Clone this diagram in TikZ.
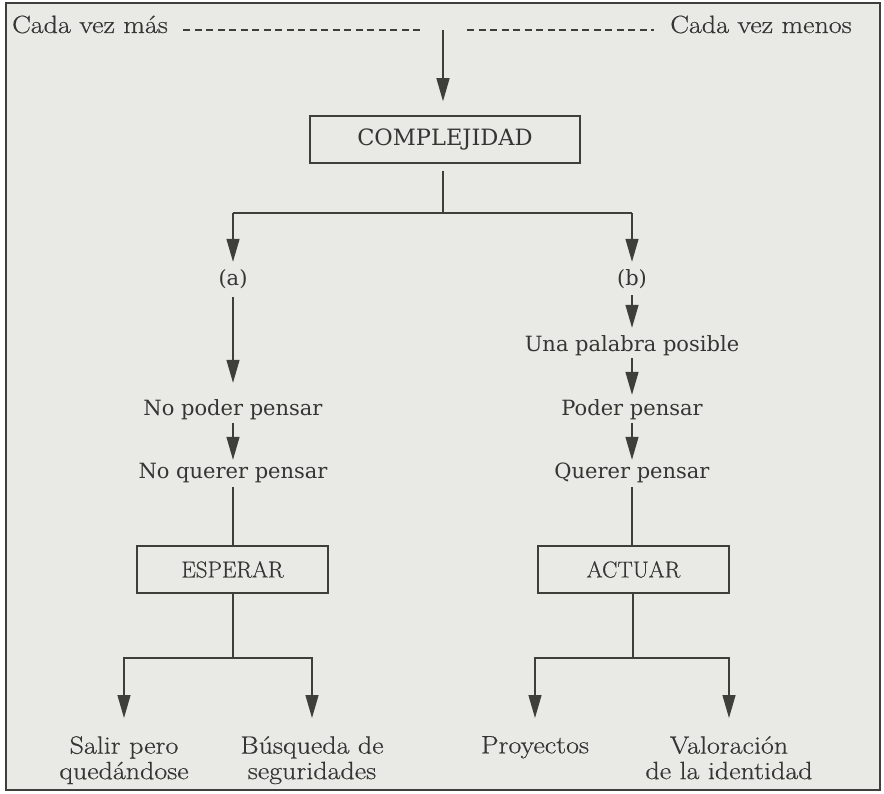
\documentclass[tikz,border=0pt]{standalone}
\usepackage{fontspec}
\newfontfamily\djserif{DejaVu Serif}
\newfontfamily\lmwide[FakeStretch=1.12, FakeBold=0.5]{Latin Modern Roman}
\newfontfamily\lmbox[FakeBold=0.5]{Latin Modern Roman}
\usetikzlibrary{arrows.meta}
\definecolor{bgc}{HTML}{E9E9E5}
\definecolor{ink}{HTML}{3E3F3B}
\definecolor{txt}{HTML}{353533}
\tikzset{
  lbl/.style={inner sep=0pt, text=txt, font=\djserif\fontsize{21}{24}\selectfont, text height=15pt, text depth=5pt},
  cnd/.style={inner sep=0pt, text=txt, font=\lmwide\fontsize{25}{25}\selectfont},
  bot/.style={inner sep=0pt, text=txt, align=center, anchor=north, font=\lmwide\fontsize{25}{25.5}\selectfont},
  boxc/.style={draw=ink, line width=1.5pt, fill=bgc, minimum height=47pt, text=txt, inner sep=0pt},
  conn/.style={draw=ink, line width=1.3pt},
  arr/.style={conn, -{Triangle[length=23pt, width=13pt]}},
}
\begin{document}
\begin{tikzpicture}[x=1pt, y=-1pt]
\useasboundingbox (0,0) rectangle (884,794);
\fill[white] (0,0) rectangle (884,794);
\draw[fill=bgc, draw=ink, line width=2pt] (6,3) rectangle (880,790);

% top texts
\node[cnd, anchor=base] (mas) at (90,33) {Cada vez más};
\node[cnd, anchor=base] (menos) at (761,33) {Cada vez menos};
\coordinate (d1a) at (183,30);
\coordinate (d1b) at (423,30);
\coordinate (d2a) at (467,30);
\coordinate (d2b) at (654,30);
\draw[conn, line width=1.2pt, dash pattern=on 7pt off 4.5pt] (d1a) -- (d1b);
\draw[conn, line width=1.2pt, dash pattern=on 7pt off 4.5pt] (d2a) -- (d2b);
\coordinate (top) at (443,30);

% complejidad
\node[boxc, minimum width=270pt, font=\djserif\fontsize{22.5}{24}\selectfont] (comp) at (445,139.5) {COMPLEJIDAD};
\draw[arr, shorten >=14pt] (top) -- (top |- comp.north);

\coordinate (split) at (443,213);
\coordinate (L1) at (233,213);
\coordinate (R1) at (632,213);
\draw[conn, shorten <=7pt] (comp.south -| split) -- (split);
\draw[conn] (L1) -- (R1);

% left column
\node[lbl] (a) at (233,281) {(a)};
\node[lbl] (nopoder) at (233,410) {No poder pensar};
\node[lbl] (noquerer) at (233,473) {No querer pensar};
\node[boxc, minimum width=191pt, font=\lmbox\fontsize{23}{24}\selectfont] (esperar) at (232.5,569.5) {ESPERAR};
\draw[arr, shorten >=9pt] (L1) -- (a);
\draw[arr, shorten <=6pt, shorten >=17pt] (a) -- (nopoder);
\draw[arr, shorten <=3pt, shorten >=3pt] (nopoder) -- (noquerer);
\draw[conn, shorten <=4pt] (noquerer) -- (noquerer |- esperar.north);

% right column
\node[lbl] (b) at (632,281) {(b)};
\node[lbl] (palabra) at (632,347) {Una palabra posible};
\node[lbl] (poder) at (632,410) {Poder pensar};
\node[lbl] (querer) at (632,473) {Querer pensar};
\node[boxc, minimum width=191pt, font=\lmbox\fontsize{23}{24}\selectfont] (actuar) at (633.5,569.5) {ACTUAR};
\draw[arr, shorten >=9pt] (R1) -- (b);
\draw[arr, shorten <=4pt, shorten >=9pt] (b) -- (palabra);
\draw[arr, shorten <=1pt, shorten >=5pt] (palabra) -- (poder);
\draw[arr, shorten <=3pt, shorten >=3pt] (poder) -- (querer);
\draw[conn, shorten <=4pt] (querer) -- (querer |- actuar.north);

% bottom left
\coordinate (E1) at (233,658);
\node[bot] (salir) at (124,736) {Salir pero\\quedándose};
\node[bot] (busq) at (312,736) {Búsqueda de\\seguridades};
\draw[conn] (esperar.south -| E1) -- (E1);
\draw[arr, shorten >=18pt] (E1) -| (salir.north);
\draw[arr, shorten >=18pt] (E1) -| (busq.north);

% bottom right
\coordinate (A1) at (633,658);
\node[bot] (proy) at (535,736) {Proyectos};
\node[bot] (valor) at (729,736) {Valoración\\de la identidad};
\draw[conn] (actuar.south -| A1) -- (A1);
\draw[arr, shorten >=18pt] (A1) -| (proy.north);
\draw[arr, shorten >=18pt] (A1) -| (valor.north);
\end{tikzpicture}
\end{document}
